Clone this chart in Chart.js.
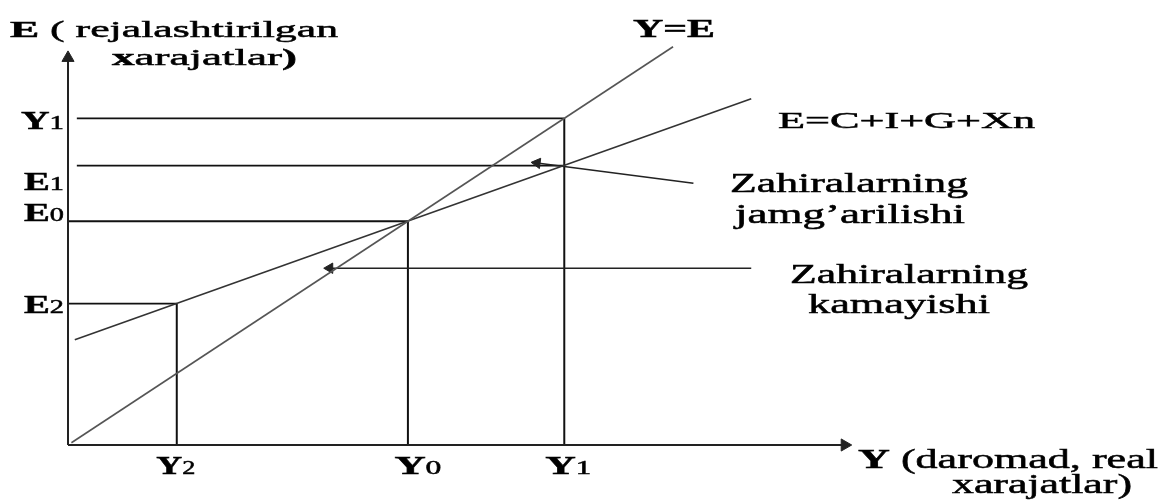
<!DOCTYPE html>
<html>
<head>
<meta charset="utf-8">
<script src="https://cdn.jsdelivr.net/npm/chart.js@4"></script>
<style>
  html, body { margin: 0; padding: 0; background: #fff; }
  canvas { display: block; }
</style>
</head>
<body>
<canvas id="chart" width="1163" height="503"></canvas>
<script>
// Income levels on the horizontal axis (daromad)
const incomeLabels = ['Y2', 'Y0', 'Y1'];
const incomeValues = [32, 100, 146];

// Planned expenditure levels on the vertical axis
const spendLabels = ['Y1', 'E1', 'E0', 'E2'];
const spendValues = [146, 124.9, 100, 63.2];
const spendIncome = [146, 146, 100, 32];   // where each guide line stops
const spendStart = [2.6, 2.6, 0, 0];       // where each guide line starts

// Y=E line
const equalityX = [1, 178];
const equalityY = [1, 178];

// E=C+I+G+Xn line
const aggregateX = [2, 201];
const aggregateY = [47, 154.7];

// Arrows: inventory build-up and inventory run-down
const accumArrowX = [184, 138];
const accumArrowY = [117, 126];
const depleteArrowX = [201, 77];
const depleteArrowY = [79, 79];

// Axis extents
const xAxisEnd = 228.5;
const yAxisEnd = 173;
const xMax = 233;
const yMax = 181;

const serif = '"Liberation Serif", "Times New Roman", serif';
const B = s => `bold ${s}px ${serif}`;
const R = s => `${s}px ${serif}`;

const pts = (xs, ys) => xs.map((x, i) => ({ x, y: ys[i] }));

function line(data, color, width, extra) {
  return Object.assign({
    data,
    showLine: true,
    borderColor: color,
    borderWidth: width,
    pointRadius: 0,
    fill: false,
    clip: false
  }, extra || {});
}

function arrow(data, color, width, rot, size) {
  return line(data, color, width, {
    pointRadius: [0, size || 6],
    pointStyle: 'triangle',
    pointRotation: [0, rot],
    pointBackgroundColor: color,
    pointBorderColor: color,
    pointBorderWidth: 1
  });
}

const datasets = [
  arrow(pts([0, 0], [0, yAxisEnd]), '#222', 2, 0, 7),
  arrow(pts([0, xAxisEnd], [0, 0]), '#222', 2, 90, 7),
  line(pts(equalityX, equalityY), '#555', 1.6),
  line(pts(aggregateX, aggregateY), '#333', 1.6),
  arrow(pts(accumArrowX, accumArrowY), '#222', 1.5, 277, 6),
  arrow(pts(depleteArrowX, depleteArrowY), '#222', 1.5, 270, 6)
];

// horizontal guide lines
spendValues.forEach((v, i) => {
  datasets.push(line(pts([spendStart[i], spendIncome[i]], [v, v]), '#111', 1.8));
});

// vertical guide lines down to the income axis
const incomeTop = [63.2, 100, 146];
incomeValues.forEach((v, i) => {
  datasets.push(line(pts([v, v], [0, incomeTop[i]]), '#111', 2));
});

function fitText(ctx, parts, x, y, width, align) {
  let natural = 0;
  parts.forEach(p => { ctx.font = p.f; natural += ctx.measureText(p.t).width; });
  const sx = width ? width / natural : 1;
  const w = natural * sx;
  const left = align === 'right' ? x - w : align === 'center' ? x - w / 2 : x;
  ctx.save();
  ctx.translate(left, y);
  ctx.scale(sx, 1);
  ctx.lineWidth = 0.5;
  ctx.strokeStyle = '#000';
  let cx = 0;
  parts.forEach(p => {
    ctx.font = p.f;
    ctx.fillText(p.t, cx, 0);
    ctx.strokeText(p.t, cx, 0);
    cx += ctx.measureText(p.t).width;
  });
  ctx.restore();
}

const textPlugin = {
  id: 'texts',
  afterDraw(chart) {
    const ctx = chart.ctx;
    const xs = chart.scales.x;
    const ys = chart.scales.y;
    ctx.save();
    ctx.fillStyle = '#000';
    ctx.textBaseline = 'alphabetic';

    // axis titles
    fitText(ctx, [{ t: 'E', f: B(24) }, { t: ' ( rejalashtirilgan', f: R(24) }], 10, 37, 328);
    fitText(ctx, [{ t: 'x', f: B(24) }, { t: 'arajatlar', f: R(24) }, { t: ')', f: B(24) }], 112, 65, 185);
    fitText(ctx, [{ t: 'Y', f: B(27) }, { t: ' (daromad, real', f: R(27) }], 858, 468, 300);
    fitText(ctx, [{ t: 'xarajatlar)', f: R(27) }], 952, 493, 180);

    // line names and notes
    fitText(ctx, [{ t: 'Y=E', f: B(26) }], 633, 37, 82);
    fitText(ctx, [{ t: 'E=C+I+G+Xn', f: R(23) }], 778, 128, 257);
    fitText(ctx, [{ t: 'Zahiralarning', f: R(27) }], 730, 192, 238);
    fitText(ctx, [{ t: 'jamg’arilishi', f: R(27) }], 735, 223, 230);
    fitText(ctx, [{ t: 'Zahiralarning', f: R(27) }], 790, 283, 238);
    fitText(ctx, [{ t: 'kamayishi', f: R(27) }], 808, 313, 182);

    // vertical axis tick labels
    const spendOffset = [11, 24.5, 0, 9.4];
    const spendWidth = [43, 40, 40, 40];
    spendLabels.forEach((lab, i) => {
      const py = ys.getPixelForValue(spendValues[i]) + spendOffset[i];
      fitText(ctx, [{ t: lab[0], f: B(26) }, { t: lab.slice(1), f: R(19) }], 64, py, spendWidth[i], 'right');
    });

    // horizontal axis tick labels
    const incomeOffset = [-1, 10, 4];
    const incomeWidth = [39, 47, 46];
    incomeLabels.forEach((lab, i) => {
      const px = xs.getPixelForValue(incomeValues[i]) + incomeOffset[i];
      fitText(ctx, [{ t: lab[0], f: B(26) }, { t: lab.slice(1), f: R(19) }], px, 474, incomeWidth[i], 'center');
    });

    ctx.restore();
  }
};

new Chart(document.getElementById('chart'), {
  type: 'scatter',
  data: { datasets },
  options: {
    responsive: false,
    animation: false,
    layout: { padding: { left: 68, right: 303, top: 40, bottom: 58 } },
    plugins: {
      legend: { display: false },
      tooltip: { enabled: false }
    },
    elements: { line: { tension: 0 } },
    scales: {
      x: { type: 'linear', min: 0, max: xMax, display: false },
      y: { type: 'linear', min: 0, max: yMax, display: false }
    }
  },
  plugins: [textPlugin]
});
</script>
</body>
</html>
